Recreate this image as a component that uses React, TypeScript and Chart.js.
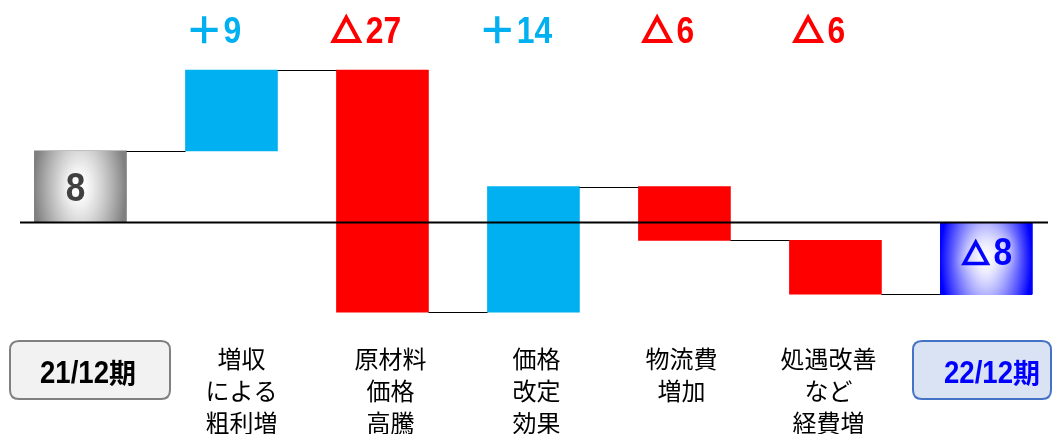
import React, { useEffect, useRef } from "react";
import { Chart, registerables } from "chart.js";

Chart.register(...registerables);

const CATEGORY_LINES: string[][] = [
  ["21/12期"],
  ["増収", "による", "粗利増"],
  ["原材料", "価格", "高騰"],
  ["価格", "改定", "効果"],
  ["物流費", "増加"],
  ["処遇改善", "など", "経費増"],
  ["22/12期"],
];
const CHANGES: number[] = [8, 9, -27, 14, -6, -6, -8];
const IS_TOTAL: boolean[] = [true, false, false, false, false, false, true];
const CHANGE_LABELS: string[] = ["", "＋9", "△27", "＋14", "△6", "△6", ""];
const TOTAL_LABELS: string[] = ["8", "", "", "", "", "", "△8"];

const UP_COLOR = "#00b0f0";
const DOWN_COLOR = "#ff0000";

function buildRanges(): [number, number][] {
  const out: [number, number][] = [];
  let running = 0;
  CHANGES.forEach((d, i) => {
    if (IS_TOTAL[i]) {
      out.push([0, d]);
      running = d;
    } else {
      out.push([running, running + d]);
      running += d;
    }
  });
  return out;
}

const SYMBOLS = "△＋";

function isCJK(ch: string) {
  return ch.charCodeAt(0) >= 0x2000;
}

function drawSymbol(ctx: CanvasRenderingContext2D, ch: string, x: number, baseline: number, s: number, color: string) {
  ctx.save();
  ctx.strokeStyle = color;
  if (ch === "△") {
    const lw = s * 0.12;
    ctx.lineWidth = lw;
    ctx.lineJoin = "miter";
    ctx.beginPath();
    ctx.moveTo(x + s / 2, baseline - 0.9 * s + lw * 1.1);
    ctx.lineTo(x + s - lw * 0.95, baseline - lw / 2);
    ctx.lineTo(x + lw * 0.95, baseline - lw / 2);
    ctx.closePath();
    ctx.stroke();
  } else {
    const lw = s * 0.13;
    ctx.lineWidth = lw;
    ctx.lineCap = "butt";
    const cx = x + s / 2;
    const cy = baseline - 0.4 * s;
    const half = 0.41 * s;
    ctx.beginPath();
    ctx.moveTo(cx - half, cy);
    ctx.lineTo(cx + half, cy);
    ctx.moveTo(cx, cy - half);
    ctx.lineTo(cx, cy + half);
    ctx.stroke();
  }
  ctx.restore();
}

function drawMixed(
  ctx: CanvasRenderingContext2D,
  text: string,
  cx: number,
  baseline: number,
  o: { size: number; cjkSize: number; scaleX: number; color: string; weight: string; symSize?: number }
) {
  const segs: { t: string; kind: number; w: number }[] = [];
  for (const ch of text) {
    if (SYMBOLS.includes(ch)) {
      const s = o.symSize || o.cjkSize;
      segs.push({ t: ch, kind: 2, w: s + s * 0.09 });
      continue;
    }
    const cjk = isCJK(ch);
    ctx.font = cjk
      ? `${o.weight} ${o.cjkSize}px "Noto Sans CJK JP"`
      : `${o.weight} ${o.size}px "Liberation Sans"`;
    const w = ctx.measureText(ch).width * (cjk ? 1 : o.scaleX);
    segs.push({ t: ch, kind: cjk ? 1 : 0, w });
  }
  const total = segs.reduce((a, s) => a + s.w, 0);
  let x = cx - total / 2;
  ctx.fillStyle = o.color;
  ctx.textBaseline = "alphabetic";
  ctx.textAlign = "left";
  for (const s of segs) {
    if (s.kind === 2) {
      drawSymbol(ctx, s.t, x, baseline, o.symSize || o.cjkSize, o.color);
      x += s.w;
      continue;
    }
    ctx.font = s.kind === 1
      ? `${o.weight} ${o.cjkSize}px "Noto Sans CJK JP"`
      : `${o.weight} ${o.size}px "Liberation Sans"`;
    ctx.save();
    ctx.translate(x, baseline);
    if (s.kind === 0) ctx.scale(o.scaleX, 1);
    ctx.fillText(s.t, 0, 0);
    ctx.restore();
    x += s.w;
  }
}

function paintGradientBar(
  ctx: CanvasRenderingContext2D,
  left: number,
  top: number,
  w: number,
  h: number,
  edge: [number, number, number]
) {
  const W = Math.max(1, Math.round(w));
  const H = Math.max(1, Math.round(h));
  const off = document.createElement("canvas");
  off.width = W;
  off.height = H;
  const octx = off.getContext("2d")!;
  const img = octx.createImageData(W, H);
  for (let py = 0; py < H; py++) {
    for (let px = 0; px < W; px++) {
      const dx = (px + 0.5 - W / 2) / (W / 2);
      const dy = (py + 0.5 - H / 2) / (H / 2);
      let t = Math.sqrt(dx * dx + 0.18 * dy * dy);
      if (t > 1) t = 1;
      const f = Math.pow(t, 1.4);
      const k = (py * W + px) * 4;
      img.data[k] = Math.round(255 * (1 - f) + edge[0] * f);
      img.data[k + 1] = Math.round(255 * (1 - f) + edge[1] * f);
      img.data[k + 2] = Math.round(255 * (1 - f) + edge[2] * f);
      img.data[k + 3] = 255;
    }
  }
  octx.putImageData(img, 0, 0);
  ctx.drawImage(off, Math.round(left), Math.round(top));
}

function roundRect(ctx: CanvasRenderingContext2D, x: number, y: number, w: number, h: number, r: number) {
  ctx.beginPath();
  ctx.moveTo(x + r, y);
  ctx.lineTo(x + w - r, y);
  ctx.quadraticCurveTo(x + w, y, x + w, y + r);
  ctx.lineTo(x + w, y + h - r);
  ctx.quadraticCurveTo(x + w, y + h, x + w - r, y + h);
  ctx.lineTo(x + r, y + h);
  ctx.quadraticCurveTo(x, y + h, x, y + h - r);
  ctx.lineTo(x, y + r);
  ctx.quadraticCurveTo(x, y, x + r, y);
  ctx.closePath();
}

const LABEL_NUDGE = [0, 10, 8, 3, -3, -7, 0];

export default function App() {
  const ref = useRef<HTMLCanvasElement | null>(null);
  useEffect(() => {
    const canvas = ref.current;
    if (!canvas) return;
    const ranges = buildRanges();
    const colors = CHANGES.map((d, i) =>
      IS_TOTAL[i] ? (i === 0 ? "#808080" : "#0000ff") : d >= 0 ? UP_COLOR : DOWN_COLOR
    );

    const overlay = {
      id: "waterfallOverlay",
      afterDatasetsDraw(chart: any) {
        const ctx: CanvasRenderingContext2D = chart.ctx;
        const meta = chart.getDatasetMeta(0);
        const ys = chart.scales.y;
        const els = meta.data;

        els.forEach((el: any, i: number) => {
          if (!IS_TOTAL[i]) return;
          const p = el.getProps(["x", "y", "base", "width"], true);
          const left = p.x - p.width / 2;
          const top = Math.min(p.y, p.base);
          const h = Math.abs(p.y - p.base);
          paintGradientBar(ctx, left, top, p.width, h, i === 0 ? [128, 128, 128] : [0, 0, 255]);
        });

        ctx.save();
        ctx.strokeStyle = "#000000";
        ctx.lineWidth = 1;
        for (let i = 0; i < els.length - 1; i++) {
          const a = els[i].getProps(["x", "width"], true);
          const b = els[i + 1].getProps(["x", "width"], true);
          const y = Math.round(ys.getPixelForValue(ranges[i][1])) + 0.5;
          ctx.beginPath();
          ctx.moveTo(a.x + a.width / 2, y);
          ctx.lineTo(b.x - b.width / 2, y);
          ctx.stroke();
        }
        const y0 = ys.getPixelForValue(0);
        ctx.lineWidth = 2;
        ctx.beginPath();
        ctx.moveTo(20, y0);
        ctx.lineTo(1048, y0);
        ctx.stroke();
        ctx.restore();

        els.forEach((el: any, i: number) => {
          const txt = CHANGE_LABELS[i];
          if (!txt) return;
          const p = el.getProps(["x"], true);
          drawMixed(ctx, txt, p.x - 17, 43, {
            size: 37,
            cjkSize: 34,
            symSize: 33,
            scaleX: 0.86,
            color: CHANGES[i] >= 0 ? UP_COLOR : DOWN_COLOR,
            weight: "bold",
          });
        });

        els.forEach((el: any, i: number) => {
          const txt = TOTAL_LABELS[i];
          if (!txt) return;
          const p = el.getProps(["x", "y", "base"], true);
          const mid = (p.y + p.base) / 2;
          ctx.save();
          ctx.shadowColor = "rgba(255,255,255,1)";
          ctx.shadowBlur = 14;
          if (i === 0) {
            drawMixed(ctx, txt, p.x - 5, mid + 14.5, {
              size: 40,
              cjkSize: 31,
              scaleX: 0.88,
              color: "#404040",
              weight: "bold",
            });
          } else {
            drawMixed(ctx, txt, p.x, mid + 7, {
              size: 39,
              cjkSize: 31,
              symSize: 30,
              scaleX: 0.86,
              color: "#0000ff",
              weight: "bold",
            });
          }
          ctx.restore();
        });

        els.forEach((el: any, i: number) => {
          const p = el.getProps(["x"], true);
          const lines = CATEGORY_LINES[i];
          if (IS_TOTAL[i]) {
            ctx.save();
            const first = i === 0;
            const bx = first ? 10 : 913;
            const bw = first ? 160 : 138;
            roundRect(ctx, bx, 341, bw, 58, 9);
            ctx.fillStyle = first ? "#f2f2f2" : "#dae3f3";
            ctx.fill();
            ctx.lineWidth = 2;
            ctx.strokeStyle = first ? "#808080" : "#4472c4";
            ctx.stroke();
            ctx.restore();
            drawMixed(ctx, lines[0], first ? 88 : 992, 383, {
              size: 31,
              cjkSize: 27,
              scaleX: 0.89,
              color: first ? "#000000" : "#0000ff",
              weight: "bold",
            });
            return;
          }
          ctx.save();
          ctx.fillStyle = "#000000";
          ctx.font = '24px "Noto Sans CJK JP"';
          ctx.textAlign = "center";
          ctx.textBaseline = "middle";
          lines.forEach((ln, k) => {
            ctx.fillText(ln, p.x + LABEL_NUDGE[i], 359 + k * 32);
          });
          ctx.restore();
        });
      },
    };

    const chart = new Chart(canvas, {
      type: "bar",
      data: {
        datasets: [
          {
            data: ranges.map((r, i) => ({ x: i, y: r })) as any,
            backgroundColor: colors,
            borderWidth: 0,
            barThickness: 92,
          },
        ],
      },
      options: {
        animation: false,
        responsive: false,
        devicePixelRatio: 1,
        layout: { padding: 0 },
        plugins: { legend: { display: false }, tooltip: { enabled: false } },
        scales: {
          x: { type: "linear", display: false, offset: false, min: -0.533, max: 6.474 },
          y: { display: false, min: -23.6, max: 24.83 },
        },
      },
      plugins: [overlay],
    });
    return () => chart.destroy();
  }, []);

  return (
    <div style={{ position: "fixed", left: 0, top: 0, width: 1058, height: 434, background: "#ffffff" }}>
      <canvas ref={ref} width={1058} height={434} style={{ display: "block" }} />
    </div>
  );
}
